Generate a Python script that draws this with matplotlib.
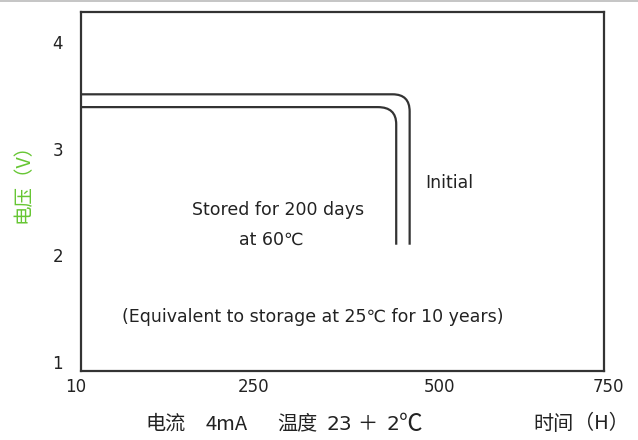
import matplotlib
matplotlib.use("Agg")
import matplotlib.pyplot as plt
from matplotlib.path import Path
from matplotlib.patches import PathPatch
from matplotlib.lines import Line2D

plt.rcParams['font.family'] = ['DejaVu Sans', 'Noto Sans CJK SC']

# ---- data (hours, volts) ----
series_names = ["Initial", "Stored for 200 days\nat 60℃"]
plateau_v = [3.51, 3.39]          # flat discharge voltage
knee_start_h = [451, 430]         # where the curve starts to bend
cutoff_h = [475, 456]             # time at which voltage drops
knee_end_v = [3.35, 3.23]         # voltage where the drop becomes vertical
end_v = [2.10, 2.10]              # end voltage of the plotted drop
start_h = 10

x_tick_labels = ["10", "250", "500", "750"]
y_ticks = [1, 2, 3, 4]

line_color = "#333333"
text_color = "#222222"
green = "#66c633"

fig = plt.figure(figsize=(6.38, 4.40), dpi=100)
ax = fig.add_axes([81/638, 1 - 371/440, 523/638, (371 - 12.5)/440])
ax.set_xlim(10, 750)
ax.set_ylim(0.916, 4.277)

for i in range(2):
    verts = [
        (start_h, plateau_v[i]),
        (knee_start_h[i], plateau_v[i]),
        (cutoff_h[i], plateau_v[i]),
        (cutoff_h[i], knee_end_v[i]),
        (cutoff_h[i], end_v[i]),
    ]
    codes = [Path.MOVETO, Path.LINETO, Path.CURVE3, Path.CURVE3, Path.LINETO]
    ax.add_patch(PathPatch(Path(verts, codes), fill=False, edgecolor=line_color,
                           lw=1.6, capstyle='butt'))

for s in ax.spines.values():
    s.set_linewidth(1.6)
    s.set_color(line_color)

ax.set_xticks([])
ax.set_yticks(y_ticks)
ax.set_yticklabels([str(v) for v in y_ticks], fontsize=12, color=text_color)
ax.tick_params(axis='y', length=0, pad=13)

# x tick labels (positions in axes fraction, as drawn in the reference)
x_label_pos = [-0.011, 0.329, 0.686, 1.008]
for xp, lab in zip(x_label_pos, x_tick_labels):
    ax.text(xp, -0.045, lab, transform=ax.transAxes, ha='center', va='center',
            fontsize=12, color=text_color)

# annotations
fs = 12.5
ax.text(0.658, 0.524, "Initial", transform=ax.transAxes, ha='left', va='center',
        fontsize=fs, color=text_color)
ax.text(0.377, 0.449, "Stored for 200 days", transform=ax.transAxes, ha='center',
        va='center', fontsize=fs, color=text_color)
ax.text(0.363, 0.365, "at 60℃", transform=ax.transAxes, ha='center',
        va='center', fontsize=fs, color=text_color)
ax.text(0.444, 0.151, "(Equivalent to storage at 25℃ for 10 years)",
        transform=ax.transAxes, ha='center', va='center', fontsize=fs,
        color=text_color)

cjk = ['Noto Sans CJK SC', 'DejaVu Sans']
fig.text(23/638, 1 - 178/440, "电压（V）", rotation=90, ha='center', va='center',
         color=green, fontsize=14, family=cjk)

yb = 1 - 424/440
# (left px, text, fontsize, family)
bottom_parts = [
    (145, "电流", 14.5, cjk),
    (206, "4mA", 14.5, cjk),
    (277, "温度", 14.5, cjk),
    (326, "23", 14.5, ['DejaVu Sans']),
    (357, "＋", 14.5, cjk),
    (386, "2", 14.5, ['DejaVu Sans']),
    (399, "℃", 17, cjk),
    (533, "时间", 14.5, cjk),
    (574, "（H）", 14.5, cjk),
]
for px, t, f, fam in bottom_parts:
    fig.text(px/638, yb, t, ha='left', va='center', color=text_color,
             fontsize=f, family=fam)

fig.add_artist(Line2D([0, 1], [1 - 0.7/440, 1 - 0.7/440], transform=fig.transFigure,
                      color="#bbbbbb", lw=1.2))

fig.savefig("out.png", dpi=100)
